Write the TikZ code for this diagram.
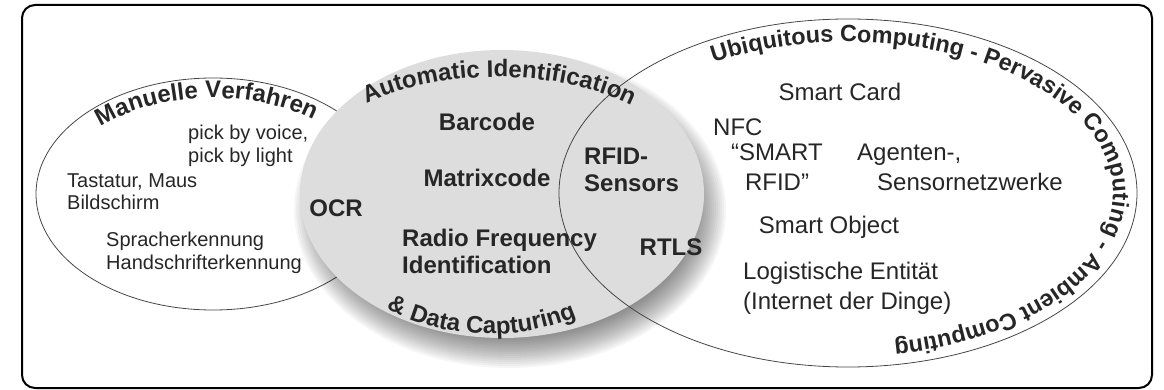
\documentclass[tikz,border=0pt]{standalone}
\usepackage{fontspec}
\setmainfont{Liberation Sans}
\usetikzlibrary{decorations.text}
\definecolor{ink}{RGB}{38,38,38}
\definecolor{aidfill}{RGB}{221,221,221}
\definecolor{rimline}{RGB}{70,70,70}
\newcommand\ttlfont{\bfseries\fontsize{24}{28}\selectfont}
\newcommand\ubifont{\bfseries\fontsize{23.4}{28}\selectfont}
\tikzset{
  rim/.style={draw=rimline,line width=0.8pt},
  arcttl/.style={decorate,decoration={text along path,text color=ink,text align=center}},
  lefttxt/.style={font=\fontsize{20}{22.5}\selectfont,text=ink,align=left,inner sep=0pt},
  aidtxt/.style={font=\bfseries\fontsize{24}{27}\selectfont,text=ink,inner sep=0pt},
  ubitxt/.style={font=\fontsize{24}{30}\selectfont,text=ink,inner sep=0pt},
}

\begin{document}
\begin{tikzpicture}[x=1pt,y=1pt]
  \useasboundingbox (0,0) rectangle (1164,-390);
  \draw[line width=2pt,rounded corners=13pt] (22,-5) rectangle (1152,-388);

  % --- ellipsen ------------------------------------------------------------
  \draw[rim] (213,-194) ellipse [x radius=177,y radius=116];
  \foreach \dd in {14,12,...,-16}
    \fill[black,opacity=0.035] (510,-210) ellipse [x radius=202+\dd,y radius=144+\dd];
  \fill[aidfill] (502,-194) ellipse [x radius=202,y radius=144];
  \draw[rim] (848,-193) ellipse [x radius=289,y radius=174];

  % --- titel entlang der ränder --------------------------------------------
  \path[shift={(213,-194)},arcttl,decoration={text={|\ttlfont|Manuelle Verfahren}}]
    (160:158 and 96) arc[start angle=160,end angle=27,x radius=158,y radius=96];
  \path[shift={(497,-194)},arcttl,decoration={text={|\ttlfont|Automatic Identification}}]
    (150:207 and 117) arc[start angle=150,end angle=28,x radius=207,y radius=117];
  \path[shift={(490,-194)},arcttl,decoration={text={|\ttlfont|{\&} Data Capturing}}]
    (216.7:180 and 140) arc[start angle=216.7,end angle=316.7,x radius=180,y radius=140];
  \path[shift={(848,-193)},arcttl,decoration={text align=left,
        text={|\ubifont|Ubiquitous Computing - Pervasive Computing - Ambient Computing}}]
    (120.5:265 and 151) arc[start angle=120.5,end angle=-100,x radius=265,y radius=151];

  % --- manuelle verfahren --------------------------------------------------
  \node[lefttxt,anchor=west] (pick) at (188,-146) {pick by voice,\\pick by light};
  \node[lefttxt,anchor=west] (tast) at (67,-191.5) {Tastatur, Maus\\Bildschirm};
  \node[lefttxt,anchor=west] (sprach) at (106,-253) {Spracherkennung\\Handschrifterkennung};

  % --- automatic identification --------------------------------------------
  \node[aidtxt] (barcode) at (487,-122) {Barcode};
  \node[aidtxt] (matrix) at (487,-178) {Matrixcode};
  \node[aidtxt] (ocr) at (336,-208) {OCR};
  \node[aidtxt,align=left,anchor=west] (rfid) at (402,-251) {Radio Frequency\\Identification};
  \node[aidtxt,align=left,anchor=west] (rfidsens) at (584,-170) {RFID-\\Sensors};
  \node[aidtxt] (rtls) at (671,-247) {RTLS};

  % --- ubiquitous computing ------------------------------------------------
  \node[ubitxt] (card) at (840,-92) {Smart Card};
  \node[ubitxt,anchor=west] (nfc) at (713,-127) {NFC};
  \node[ubitxt,align=center] (smart) at (777,-167) {“SMART\\RFID”};
  \node[ubitxt,align=left,anchor=west] (agent) at (857,-167) {Agenten-,\\\hspace*{20pt}Sensornetzwerke};
  \node[ubitxt] (object) at (829,-227) {Smart Object};
  \node[ubitxt,align=left,anchor=west] (logist) at (743,-288.5) {Logistische Entität\\(Internet der Dinge)};
\end{tikzpicture}
\end{document}
